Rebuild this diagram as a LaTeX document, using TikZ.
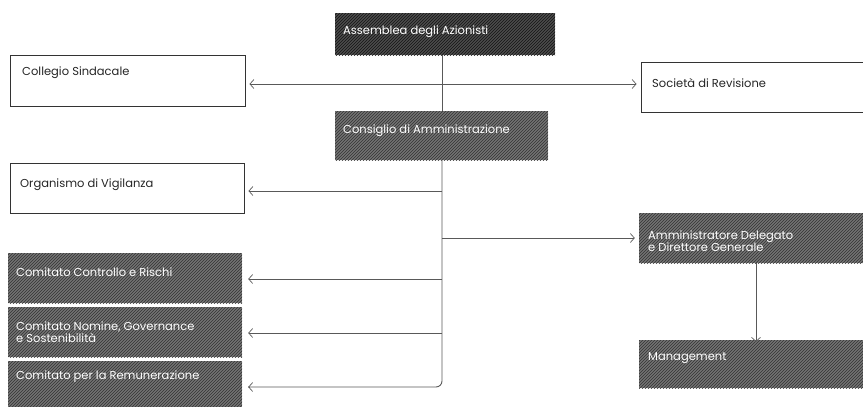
\documentclass[tikz,border=0pt]{standalone}
\usepackage{fontspec}
\setmainfont{Poppins}
\usetikzlibrary{arrows.meta,patterns}
\begin{document}
\begin{tikzpicture}[x=1pt,y=-1pt,
  wbox/.style={draw=black!80,line width=0.9pt,fill=white},
  gbox/.style={fill=black!55,postaction={pattern=north east lines,pattern color=black!80}},
  dbox/.style={fill=black!70,postaction={pattern=north east lines,pattern color=black!92}},
  wtxt/.style={anchor=west,inner sep=0pt,font=\fontsize{11.5}{12.5}\selectfont,text=black!85},
  gtxt/.style={anchor=west,inner sep=0pt,font=\fontsize{11.5}{12.5}\selectfont,text=white,align=left},
  conn/.style={draw=black!65,line width=0.9pt},
  arr/.style={conn,-{Straight Barb[length=4pt,width=9pt,line width=0.7pt]}}]
\useasboundingbox (0,0) rectangle (863,407);
% boxes
\node[inner sep=0pt,minimum width=220pt,minimum height=42pt,dbox] (assb) at (445,34) {};
\node[inner sep=0pt,minimum width=213pt,minimum height=49pt,gbox] (cda) at (441.5,135.5) {};
\node[inner sep=0pt,minimum width=235pt,minimum height=51pt,wbox] (col) at (127.5,80.5) {};
\node[inner sep=0pt,minimum width=240pt,minimum height=50pt,wbox] (soc) at (761,87) {};
\node[inner sep=0pt,minimum width=234pt,minimum height=50pt,wbox] (odv) at (127,188) {};
\node[inner sep=0pt,minimum width=234pt,minimum height=50pt,gbox] (ccr) at (125,278) {};
\node[inner sep=0pt,minimum width=234pt,minimum height=50pt,gbox] (cng) at (125,332) {};
\node[inner sep=0pt,minimum width=234pt,minimum height=50pt,gbox] (crem) at (125,386) {};
\node[inner sep=0pt,minimum width=240pt,minimum height=50pt,gbox] (ad) at (759,238) {};
\node[inner sep=0pt,minimum width=240pt,minimum height=48pt,gbox] (man) at (759,364) {};
% texts
\node[gtxt] (tass) at (343,32) {Assemblea degli Azionisti};
\node[gtxt] (tcda) at (343,131) {Consiglio di Amministrazione};
\node[wtxt] (tcol) at (22,73) {Collegio Sindacale};
\node[wtxt] (tsoc) at (652,83) {Società di Revisione};
\node[wtxt] (todv) at (20,185) {Organismo di Vigilanza};
\node[gtxt] (tccr) at (16,272) {Comitato Controllo e Rischi};
\node[gtxt] (tcng) at (16,332) {Comitato Nomine, Governance\\e Sostenibilità};
\node[gtxt] (tcrem) at (16,377) {Comitato per la Remunerazione};
\node[gtxt] (tad) at (648,241) {Amministratore Delegato\\e Direttore Generale};
\node[gtxt] (tman) at (648,358) {Management};
% junctions
\coordinate (j1) at (442,84);
\coordinate (j2) at (442,191);
\coordinate (j3) at (442,238);
\coordinate (j4) at (442,279);
\coordinate (j5) at (442,333);
\coordinate (j6) at (442,387);
\coordinate (jv) at (756,0);
% connectors
\draw[conn] (assb.south -| j1) -- (cda.north -| j1);
\draw[arr] (j1) -- ([xshift=4pt]j1 -| col.east);
\draw[arr] (j1) -- ([xshift=-4pt]j1 -| soc.west);
\draw[conn,rounded corners=6pt] (cda.south -| j1) -- (j6) -- ([xshift=6pt]j6 -| crem.east);
\draw[arr] ([xshift=7pt]j6 -| crem.east) -- ([xshift=6pt]j6 -| crem.east);
\draw[arr] (j2) -- ([xshift=4pt]j2 -| odv.east);
\draw[arr] (j3) -- ([xshift=-4pt]j3 -| ad.west);
\draw[arr] (j4) -- ([xshift=6pt]j4 -| ccr.east);
\draw[arr] (j5) -- ([xshift=6pt]j5 -| cng.east);
\draw[arr] (ad.south -| jv) -- ([yshift=-2pt]man.north -| jv);
\end{tikzpicture}
\end{document}
